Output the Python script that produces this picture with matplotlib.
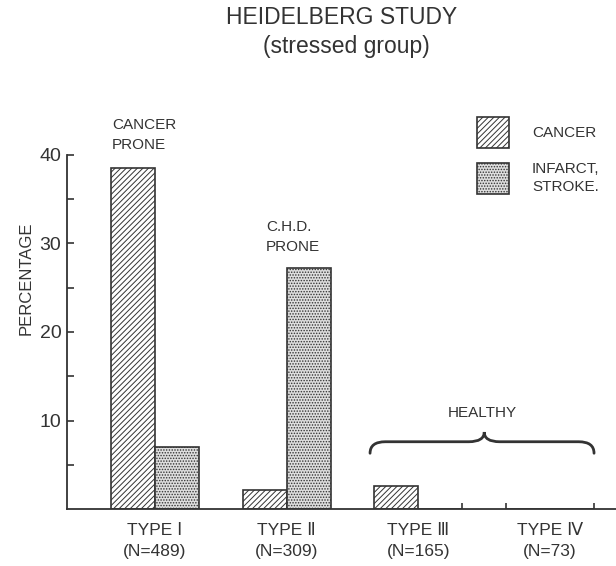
import numpy as np
import matplotlib
matplotlib.use("Agg")
from matplotlib import pyplot as plt
from matplotlib.path import Path
from matplotlib.patches import PathPatch

plt.rcParams['font.family'] = ['Liberation Sans', 'DejaVu Sans']
plt.rcParams['hatch.linewidth'] = 0.7
plt.rcParams['hatch.color'] = '#444444'

# percentages per personality type
types = ["TYPE Ⅰ", "TYPE Ⅱ", "TYPE Ⅲ", "TYPE Ⅳ"]
sizes = [489, 309, 165, 73]
cancer = [38.5, 2.2, 2.6, 0.0]
infarct = [7.0, 27.2, 0.0, 0.0]

ink = '#333333'
W, H = 616, 566
fig = plt.figure(figsize=(W / 100, H / 100), dpi=100)
ax = fig.add_axes([67 / W, 57 / H, (W - 67) / W, 354 / H])

x = np.arange(len(types)) * 3.0
ax.bar(x, cancer, width=1.0, align='edge', facecolor='white',
       edgecolor=ink, linewidth=1.2, hatch='//////', label='CANCER')
ax.bar(x + 1, infarct, width=1.0, align='edge', facecolor='#dedede',
       edgecolor=ink, linewidth=1.2, hatch='......', label='INFARCT,\nSTROKE.')

ax.set_xlim(-1.0, 11.5)
ax.set_ylim(0, 40)
ax.spines['top'].set_visible(False)
ax.spines['right'].set_visible(False)
for s in ('left', 'bottom'):
    ax.spines[s].set_color(ink)
    ax.spines[s].set_linewidth(1.3)

ax.set_yticks([10, 20, 30, 40])
ax.set_yticks([5, 15, 25, 35], minor=True)
ax.tick_params(axis='y', which='both', direction='in', length=5, width=1.2,
               color=ink, labelsize=14, labelcolor=ink, pad=4)

ax.set_xticks(x + 1)
ax.set_xticklabels([f"{t}\n(N={n})" for t, n in zip(types, sizes)])
for lbl in ax.get_xticklabels():
    lbl.set_linespacing(1.55)
ax.set_xticks([8, 9, 10, 11], minor=True)
ax.tick_params(axis='x', which='major', length=0, labelsize=12.5,
               labelcolor=ink, pad=10)
ax.tick_params(axis='x', which='minor', direction='in', length=4, width=1.2,
               color=ink)

ax.text(-0.075, 0.652, "PERCENTAGE", transform=ax.transAxes, rotation=90,
        ha='center', va='center', fontsize=12, color=ink)

ax.text(0.03, 42.3, "CANCER\nPRONE", ha='left', va='center',
        fontsize=11, color=ink, linespacing=1.55)
ax.text(3.53, 30.7, "C.H.D.\nPRONE", ha='left', va='center',
        fontsize=11, color=ink, linespacing=1.55)
ax.text(8.45, 10.9, "HEALTHY", ha='center', va='center',
        fontsize=11, color=ink)

# curly brace over types III and IV
x0, x1, xc = 5.9, 11.0, 8.5
y_end, y_mid, y_tip = 6.3, 7.6, 8.7
d = 0.35
verts = [(x0, y_end), (x0, y_mid), (x0 + d, y_mid),
         (xc - d, y_mid), (xc, y_mid), (xc, y_tip),
         (xc, y_mid), (xc + d, y_mid),
         (x1 - d, y_mid), (x1, y_mid), (x1, y_end)]
codes = [Path.MOVETO, Path.CURVE3, Path.CURVE3,
         Path.LINETO, Path.CURVE3, Path.CURVE3,
         Path.CURVE3, Path.CURVE3,
         Path.LINETO, Path.CURVE3, Path.CURVE3]
ax.add_patch(PathPatch(Path(verts, codes), facecolor='none',
                       edgecolor=ink, linewidth=2.0, capstyle='round'))

leg = ax.legend(loc='upper left', bbox_to_anchor=(477 / W, 1 - 117 / H),
                bbox_transform=fig.transFigure, frameon=False, fontsize=11,
                handlelength=2.1, handleheight=2.75, handletextpad=1.5,
                labelspacing=0.9, borderpad=0, borderaxespad=0,
                labelcolor=ink)
for t in leg.get_texts():
    t.set_linespacing(1.35)

fig.text(342 / W, 1 - 17 / H, "HEIDELBERG STUDY", ha='center', va='center',
         fontsize=16.5, color=ink)
fig.text(346 / W, 1 - 47 / H, "(stressed group)", ha='center', va='center',
         fontsize=16.5, color=ink)

fig.savefig("out.png", dpi=100)
